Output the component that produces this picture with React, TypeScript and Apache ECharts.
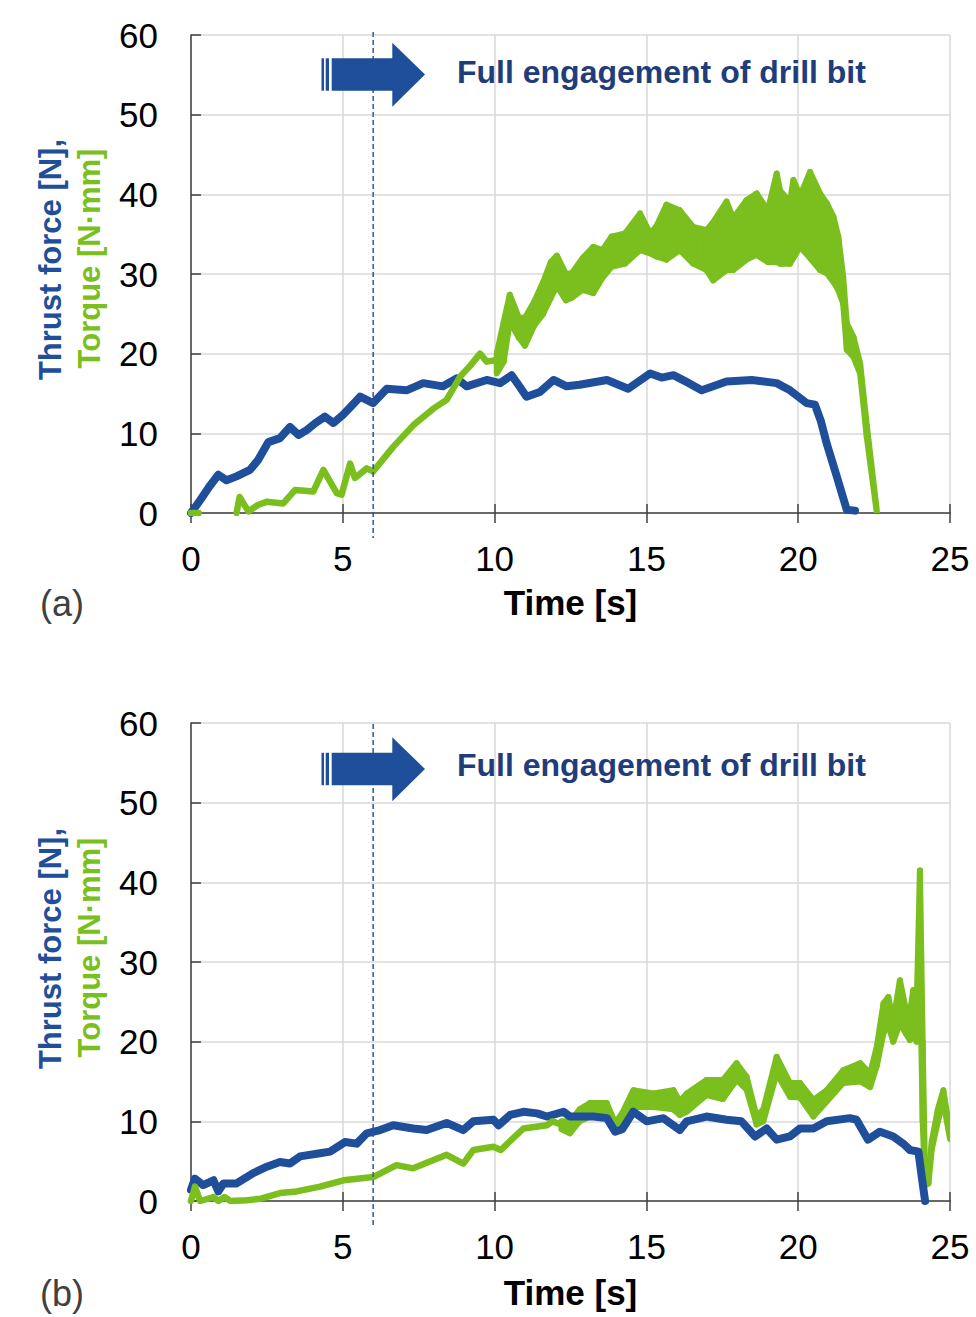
import React, { useEffect, useRef } from "react";
import * as echarts from "echarts";

// ---------- data: chart (a) ----------
const thrustA: [number, number][] = [
  [0, 0], [0.3, 1.6], [0.6, 3.3], [0.9, 4.8], [1.17, 4.1], [1.5, 4.6], [1.94, 5.4], [2.2, 6.6],
  [2.55, 8.9], [2.93, 9.4], [3.26, 10.8], [3.54, 9.8], [3.81, 10.4], [4.1, 11.3], [4.41, 12.1],
  [4.69, 11.3], [5.0, 12.3], [5.3, 13.5], [5.57, 14.6], [6.0, 13.8], [6.45, 15.6], [7.1, 15.4],
  [7.65, 16.3], [8.3, 15.9], [8.75, 16.9], [9.08, 15.9], [9.74, 16.7], [10.18, 16.3], [10.56, 17.3],
  [10.8, 16.0], [11.05, 14.6], [11.49, 15.2], [11.94, 16.7], [12.37, 15.9], [12.8, 16.1], [13.7, 16.7],
  [14.4, 15.6], [15.12, 17.5], [15.5, 17.0], [15.89, 17.3], [16.4, 16.3], [16.82, 15.4], [17.2, 15.9],
  [17.64, 16.5], [18.47, 16.7], [19.29, 16.3], [19.73, 15.4], [20.28, 13.8], [20.55, 13.6],
  [20.75, 11.5], [20.94, 8.7], [21.27, 4.6], [21.6, 0.4], [21.87, 0.3],
];

const torqueALine: [number, number | null][] = [
  [0, 0], [0.25, 0], [0.3, null], [1.5, 0], [1.6, 2.0], [1.89, 0.2], [2.2, 1.0], [2.49, 1.4],
  [3.04, 1.2], [3.43, 2.9], [4.03, 2.7], [4.36, 5.4], [4.8, 2.5], [4.96, 2.3], [5.24, 6.2],
  [5.4, 4.4], [5.79, 5.6], [6.0, 5.2], [6.66, 8.3], [7.32, 11.0], [7.98, 13.1], [8.42, 14.2],
  [8.86, 17.1], [9.2, 18.5], [9.52, 20.0], [9.74, 19.0], [10.07, 19.2],
];

const torqueABandT = [
  10.07, 10.3, 10.5, 10.8, 11.0, 11.3, 11.6, 11.85, 12.05, 12.35, 12.54, 12.9, 13.25, 13.55, 13.85,
  14.3, 14.79, 15.12, 15.33, 15.66, 16.1, 16.54, 16.98, 17.2, 17.64, 17.86, 18.3, 18.63, 19.0, 19.29,
  19.4, 19.73, 19.84, 20.06, 20.39, 20.72, 20.94, 21.16, 21.32, 21.48, 21.6, 21.82, 22.04, 22.26, 22.59,
];
const torqueABandLow = [
  17.5, 19, 24, 22, 21, 23.5, 25, 27, 28.5, 26.7, 27.0, 28, 27.6, 29.5, 30.9,
  31.3, 33.0, 32.6, 32.2, 31.8, 33.0, 31.3, 30.5, 29.2, 30.5, 30.5, 31.8, 32.4, 31.5, 31.5,
  31.3, 31.3, 32.0, 33.4, 32.0, 30.5, 30.1, 29.0, 28.0, 26.3, 20.5, 19.6, 17.5, 9.5, 0,
];
const torqueABandHigh = [
  20, 24, 27.4, 24.5, 24.5, 26.5, 29, 31.5, 32.3, 30, 30.1, 32, 33.4, 33.0, 34.7,
  35.1, 37.6, 35.1, 36.0, 38.7, 38.0, 35.9, 35.5, 36.5, 39.1, 37.0, 39.3, 40.1, 38.0, 42.6,
  40.5, 39.0, 41.8, 39.8, 42.8, 40.1, 38.9, 37.2, 34.7, 29.7, 23.8, 22.1, 18.8, 11, 0.3,
];

// ---------- data: chart (b) ----------
const thrustB: [number, number][] = [
  [0, 1.4], [0.13, 2.8], [0.4, 2.0], [0.74, 2.6], [0.9, 1.2], [1.07, 2.2], [1.5, 2.2], [2.05, 3.5],
  [2.5, 4.3], [2.93, 4.9], [3.26, 4.7], [3.59, 5.6], [4.25, 6.0], [4.58, 6.2], [5.07, 7.4], [5.46, 7.2],
  [5.79, 8.5], [6.23, 8.9], [6.66, 9.5], [7.32, 9.1], [7.76, 8.9], [8.42, 9.8], [8.97, 8.9], [9.3, 10.0],
  [9.96, 10.2], [10.13, 9.5], [10.51, 10.8], [10.95, 11.2], [11.4, 11.0], [11.72, 10.6], [12.27, 11.2],
  [12.48, 10.6], [12.8, 10.6], [13.25, 10.6], [13.7, 10.4], [13.97, 8.7], [14.2, 9.0], [14.57, 11.2],
  [15.01, 10.0], [15.56, 10.4], [16.1, 8.9], [16.33, 10.0], [16.98, 10.6], [17.64, 10.2], [18.13, 10.0],
  [18.58, 8.1], [18.96, 9.1], [19.29, 7.7], [19.73, 8.1], [20.06, 9.1], [20.5, 9.1], [20.94, 10.0],
  [21.7, 10.4], [21.92, 10.2], [22.3, 7.7], [22.69, 8.7], [23.13, 8.1], [23.46, 7.2], [23.68, 6.4],
  [23.96, 6.2], [24.07, 3.0], [24.18, 0],
];

const torqueBLine: [number, number][] = [
  [0, 0], [0.13, 1.8], [0.3, 0], [0.74, 0.5], [0.9, 0], [1.1, 0.5], [1.3, 0], [1.83, 0.1], [2.3, 0.3],
  [2.93, 1.0], [3.48, 1.2], [4.25, 1.8], [5.02, 2.6], [6.0, 3.0], [6.77, 4.5], [7.32, 4.1], [8.42, 5.8],
  [8.97, 4.7], [9.3, 6.4], [9.96, 6.8], [10.2, 6.4], [10.95, 9.1], [11.72, 9.5], [11.9, 10.0], [12.2, 9.6],
];

const torqueBBandT = [
  12.2, 12.48, 12.8, 13.14, 13.69, 13.97, 14.2, 14.57, 15.23, 15.89, 16.1, 16.33, 16.98, 17.52, 17.97,
  18.3, 18.63, 18.85, 19.29, 19.73, 20.06, 20.5, 20.94, 21.48, 22.04, 22.37, 22.59, 22.81, 22.97, 23.13,
  23.35, 23.55, 23.68, 23.79, 23.9, 24.01, 24.1, 24.18, 24.29, 24.4, 24.6, 24.78, 25.0,
];
const torqueBBandLow = [
  9.0, 8.5, 10.0, 10.6, 10.6, 8.7, 9.5, 11.8, 11.8, 11.5, 10.8, 11.2, 13.3, 12.8, 15.2,
  14.0, 9.6, 10.0, 16.0, 13.1, 13.0, 10.6, 12.5, 14.8, 15.0, 14.3, 17.0, 21.1, 22.0, 20.0,
  22.3, 21.0, 20.2, 21.0, 20.0, 30.0, 10.0, 2.0, 2.2, 6.5, 10.0, 12.5, 7.8,
];
const torqueBBandHigh = [
  10.0, 10.0, 11.5, 12.3, 12.3, 9.8, 11.0, 13.9, 13.5, 13.9, 12.5, 13.5, 15.2, 15.2, 17.3,
  15.6, 10.6, 11.5, 18.1, 14.8, 14.8, 12.7, 13.9, 16.4, 17.3, 16.0, 19.4, 24.8, 25.6, 22.5,
  27.7, 24.0, 23.6, 26.5, 24.0, 41.5, 20.0, 3.0, 3.2, 7.5, 11.5, 13.9, 8.6,
];

// ---------- axes / labels ----------
const xTicks = { min: 0, max: 25, interval: 5 };
const yTicks = { min: 0, max: 60, interval: 10 };
const engagementTime = 6;
const annotationText = "Full engagement of drill bit";
const xName = "Time [s]";
const yNameThrust = "Thrust force [N],";
const yNameTorque = "Torque [N·mm]";
const panelLabels = ["(a)", "(b)"];

const BLUE = "#1f4e9a";
const GREEN = "#7abf1e";
const NAVY = "#1f3d7a";
const FONT = "Liberation Sans, Arial, sans-serif";

function bandRenderer(ts: number[], lo: number[], hi: number[], color: string) {
  return (params: any, api: any) => {
    const i = params.dataIndex;
    if (i >= ts.length - 1) return null;
    const pts = [
      api.coord([ts[i], lo[i]]),
      api.coord([ts[i + 1], lo[i + 1]]),
      api.coord([ts[i + 1], hi[i + 1]]),
      api.coord([ts[i], hi[i]]),
    ];
    return {
      type: "polygon",
      shape: { points: pts },
      style: { fill: color, stroke: color, lineWidth: 6, lineJoin: "round" },
    };
  };
}

export default function App() {
  const ref = useRef<HTMLDivElement>(null);
  useEffect(() => {
    if (!ref.current) return;
    const chart = echarts.init(ref.current, undefined, { renderer: "svg" });
    const grids = [
      { left: 191, top: 35, width: 759, height: 478 },
      { left: 191, top: 723, width: 759, height: 478 },
    ];
    const xAxes: any[] = [];
    const yAxes: any[] = [];
    grids.forEach((_, gi) => {
      xAxes.push({
        type: "value",
        gridIndex: gi,
        ...xTicks,
        axisLine: { show: true, onZero: false, lineStyle: { color: "#404040", width: 1.5 } },
        axisTick: { show: true, inside: true, length: 9, lineStyle: { color: "#404040", width: 1.5 } },
        axisLabel: { fontSize: 35, color: "#000", margin: 28, fontFamily: FONT },
        splitLine: { show: true, lineStyle: { color: "#d9d9d9", width: 1.5 } },
      });
      xAxes.push({
        type: "value",
        gridIndex: gi,
        ...xTicks,
        position: "bottom",
        axisLine: { show: false },
        axisTick: { show: true, inside: false, length: 10, lineStyle: { color: "#404040", width: 1.5 } },
        axisLabel: { show: false },
        splitLine: { show: false },
      });
      yAxes.push({
        type: "value",
        gridIndex: gi,
        ...yTicks,
        axisLine: { show: true, lineStyle: { color: "#404040", width: 1.5 } },
        axisTick: { show: true, inside: true, length: 10, lineStyle: { color: "#404040", width: 1.5 } },
        axisLabel: { fontSize: 35, color: "#000", margin: 33, fontFamily: FONT },
        splitLine: { show: true, lineStyle: { color: "#d9d9d9", width: 1.5 } },
      });
    });

    const lineSeries = (data: any[], xi: number, yi: number, color: string, w: number) => ({
      type: "line",
      xAxisIndex: xi,
      yAxisIndex: yi,
      data,
      showSymbol: false,
      symbol: "none",
      clip: true,
      connectNulls: false,
      lineStyle: { color, width: w, join: "round", cap: "round" },
    });
    const bandSeries = (ts: number[], lo: number[], hi: number[], xi: number, yi: number) => ({
      type: "custom",
      xAxisIndex: xi,
      yAxisIndex: yi,
      clip: true,
      data: ts.map((t, i) => [t, lo[i], hi[i]]),
      encode: { x: 0, y: [1, 2] },
      renderItem: bandRenderer(ts, lo, hi, GREEN),
    });

    chart.setOption({
      animation: false,
      textStyle: { fontFamily: FONT },
      grid: grids,
      xAxis: xAxes,
      yAxis: yAxes,
      series: [
        lineSeries(thrustA, 0, 0, BLUE, 8),
        lineSeries(torqueALine, 0, 0, GREEN, 6.5),
        bandSeries(torqueABandT, torqueABandLow, torqueABandHigh, 0, 0),
        lineSeries(thrustB, 2, 1, BLUE, 8),
        lineSeries(torqueBLine, 2, 1, GREEN, 6.5),
        bandSeries(torqueBBandT, torqueBBandLow, torqueBBandHigh, 2, 1),
      ],
    });

    const graphics: any[] = [];
    const offsets = [
      { arrow: 0, label: 0 },
      { arrow: 694.5, label: 689 },
    ];
    offsets.forEach((o, gi) => {
      const top = chart.convertToPixel({ xAxisIndex: gi * 2, yAxisIndex: gi } as any, [engagementTime, yTicks.max]) as number[];
      const bot = chart.convertToPixel({ xAxisIndex: gi * 2, yAxisIndex: gi } as any, [engagementTime, yTicks.min]) as number[];
      graphics.push({
        type: "line",
        shape: { x1: top[0], y1: top[1] - 3 + (gi ? 4 : 0), x2: bot[0], y2: bot[1] + 25 },
        style: { stroke: "#2f5597", lineWidth: 1.5, lineDash: [5, 3] },
        z: 10,
      });
      const a = o.arrow;
      graphics.push({ type: "rect", shape: { x: 321.5, y: 58.3 + a, width: 2.5, height: 32.4 }, style: { fill: BLUE }, z: 11 });
      graphics.push({ type: "rect", shape: { x: 325.7, y: 58.3 + a, width: 3.3, height: 32.4 }, style: { fill: BLUE }, z: 11 });
      graphics.push({
        type: "polygon",
        shape: {
          points: [
            [331.7, 58.3 + a], [392.3, 58.3 + a], [392.3, 42.7 + a], [425, 74.5 + a],
            [392.3, 106.7 + a], [392.3, 90.7 + a], [331.7, 90.7 + a],
          ],
        },
        style: { fill: BLUE },
        z: 11,
      });
      graphics.push({
        type: "text",
        x: 457,
        y: 71.5 + a - (gi ? 1.5 : 0),
        style: { text: annotationText, fill: NAVY, font: `bold 32px ${FONT}`, textAlign: "left", textVerticalAlign: "middle" },
        z: 11,
      });
      const l = o.label;
      graphics.push({
        type: "text",
        x: 50,
        y: 259.5 + l,
        rotation: Math.PI / 2,
        style: { text: yNameThrust, fill: BLUE, font: `bold 31px ${FONT}`, textAlign: "center", textVerticalAlign: "middle" },
      });
      graphics.push({
        type: "text",
        x: 89,
        y: 258.5 + l,
        rotation: Math.PI / 2,
        style: { text: yNameTorque, fill: GREEN, font: `bold 31px ${FONT}`, textAlign: "center", textVerticalAlign: "middle" },
      });
      graphics.push({
        type: "text",
        x: 570.5,
        y: 602 + (gi ? 690 : 0),
        style: { text: xName, fill: "#000", font: `bold 35px ${FONT}`, textAlign: "center", textVerticalAlign: "middle" },
      });
      graphics.push({
        type: "text",
        x: 62,
        y: 603 + (gi ? 690 : 0),
        style: { text: panelLabels[gi], fill: "#404040", font: `36px ${FONT}`, textAlign: "center", textVerticalAlign: "middle" },
      });
    });
    chart.setOption({ graphic: graphics });

    return () => chart.dispose();
  }, []);
  return (
    <div
      ref={ref}
      style={{ position: "absolute", left: 0, top: 0, width: 976, height: 1317, background: "#fff" }}
    />
  );
}
